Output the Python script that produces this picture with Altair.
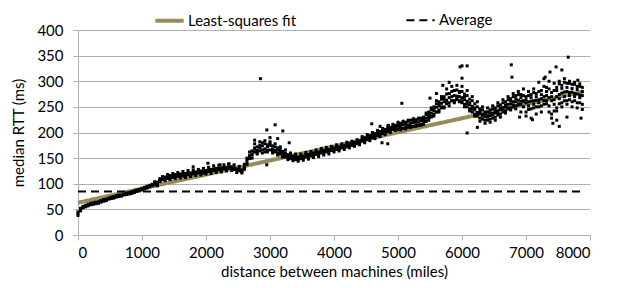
import altair as alt
import pandas as pd

# sampling positions (miles) at which the scatter was read
dist = list(range(0, 7920, 40))          # 198 positions
dist_mid = list(range(1200, 5400, 40))   # 105 positions (extra row, middle part)
dist_wide = list(range(5400, 7920, 40))  # 63 positions (noisy part, extra rows)

row_a = [
    38, 49, 55, 56, 59, 61, 60, 63, 65, 64, 68, 70, 70, 73, 75, 74, 77, 76, 80, 79, 82, 83, 83, 87, 88,
    88, 92, 92, 96, 98, 98, 102, 104, 110, 112, 111, 114, 113, 116, 114, 117, 118, 117, 119, 120, 119, 122, 121, 123, 124,
    123, 126, 127, 126, 129, 127, 130, 131, 129, 132, 130, 131, 127, 128, 125, 128, 138, 150, 158, 170, 165, 175, 166, 178, 172,
    175, 163, 172, 160, 168, 155, 160, 150, 155, 148, 153, 148, 153, 150, 156, 153, 158, 156, 161, 158, 164, 161, 166, 163, 169,
    170, 167, 172, 170, 175, 172, 178, 175, 181, 178, 184, 183, 190, 186, 194, 190, 198, 194, 202, 198, 206, 202, 210, 206, 214,
    206, 218, 208, 220, 210, 224, 212, 225, 214, 228, 216, 235, 224, 245, 236, 256, 244, 265, 250, 275, 258, 280, 262, 283, 262,
    280, 255, 272, 246, 262, 236, 250, 228, 244, 224, 240, 226, 246, 230, 252, 236, 258, 242, 264, 248, 270, 252, 274, 255, 272,
    240, 272, 246, 278, 250, 280, 252, 290, 256, 285, 236, 282, 248, 295, 258, 298, 262, 296, 260, 294, 258, 290, 255,
]
row_b = [
    42, 52, 53, 58, 57, 59, 62, 61, 63, 66, 66, 68, 72, 71, 73, 76, 75, 78, 78, 81, 80, 81, 85, 85, 86,
    90, 90, 94, 94, 96, 100, 100, 107, 108, 110, 114, 112, 116, 114, 117, 115, 116, 120, 117, 118, 122, 120, 124, 121, 122,
    125, 124, 125, 128, 127, 130, 128, 129, 132, 130, 133, 129, 129, 126, 127, 133, 146, 155, 164, 162, 172, 164, 174, 168, 165,
    166, 174, 162, 170, 158, 163, 152, 157, 149, 154, 147, 152, 149, 154, 152, 157, 154, 160, 157, 162, 160, 165, 162, 167, 165,
    166, 171, 168, 174, 171, 176, 174, 179, 177, 182, 180, 188, 185, 192, 189, 196, 193, 200, 196, 204, 200, 208, 204, 212, 208,
    216, 208, 220, 210, 222, 212, 224, 214, 226, 216, 230, 222, 240, 230, 250, 240, 260, 248, 270, 256, 276, 262, 282, 264, 278,
    258, 275, 250, 265, 240, 256, 232, 246, 226, 240, 224, 244, 228, 248, 234, 254, 240, 260, 246, 266, 250, 272, 254, 274, 250,
    270, 245, 274, 248, 276, 250, 282, 255, 288, 240, 278, 242, 288, 256, 292, 262, 296, 264, 294, 262, 290, 258, 288,
]
row_c = [
    45, 47, 56, 55, 60, 62, 63, 64, 62, 67, 69, 67, 71, 74, 72, 77, 78, 77, 79, 82, 83, 84, 86, 88, 89,
    91, 93, 95, 97, 99, 101, 103, 106, 112, 113, 110, 116, 112, 118, 116, 119, 115, 119, 121, 121, 121, 123, 122, 125, 121,
    126, 127, 128, 129, 130, 129, 131, 132, 131, 133, 132, 128, 126, 125, 124, 131, 141, 149, 156, 168, 160, 170, 180, 162, 176,
    179, 168, 165, 166, 163, 160, 157, 155, 153, 151, 151, 149, 151, 151, 153, 155, 156, 158, 159, 161, 163, 164, 164, 166, 167,
    169, 170, 169, 173, 172, 175, 177, 176, 180, 181, 181, 186, 186, 190, 190, 194, 194, 198, 198, 202, 202, 206, 206, 210, 210,
    212, 213, 215, 216, 215, 218, 219, 220, 220, 223, 224, 228, 231, 238, 243, 249, 252, 257, 260, 263, 268, 270, 272, 271, 270,
    268, 264, 261, 254, 251, 244, 239, 237, 235, 231, 233, 233, 237, 238, 242, 245, 249, 250, 255, 256, 260, 260, 263, 261, 261,
    258, 260, 261, 262, 263, 264, 266, 270, 272, 268, 262, 264, 270, 274, 277, 279, 280, 278, 279, 276, 275, 273, 272,
]
row_f = [
    104, 96, 110, 114, 106, 118, 108, 120, 110, 122, 111, 124, 112, 126, 114, 127, 116, 128, 117, 130,
    119, 132, 120, 135, 122, 136, 123, 137, 125, 139, 126, 137, 122, 134, 121, 138, 150, 162, 150, 178, 158, 182, 160, 184, 162,
    182, 160, 178, 156, 172, 152, 166, 147, 160, 145, 158, 144, 158, 146, 161, 148, 163, 151, 166, 153, 169, 156, 171, 158, 173,
    162, 176, 164, 178, 167, 181, 170, 183, 173, 186, 176, 192, 180, 196, 184, 200, 188, 204, 192, 208, 196, 212, 200, 216, 204,
    220, 205, 222, 207, 224, 210, 227, 212, 228, 214,
]
row_d = [
    220, 238, 228, 248, 232, 262, 240, 270, 248, 285, 252, 290, 258, 292, 260,
    290, 250, 282, 242, 270, 232, 260, 222, 250, 218, 248, 220, 252, 224, 258, 230, 264, 238, 270, 244, 276, 246, 280, 240, 285,
    232, 280, 228, 285, 236, 298, 240, 305, 262, 300, 228, 296, 242, 300, 250, 305, 255, 300, 250, 298, 248, 295, 245,
]
row_e = [
    226, 222, 236, 232, 245, 240, 256, 250, 266, 258, 276, 262, 282, 266, 280,
    262, 270, 256, 258, 246, 248, 236, 242, 232, 236, 230, 238, 234, 242, 238, 248, 244, 254, 248, 262, 254, 266, 256, 268, 262,
    264, 252, 268, 255, 270, 258, 274, 262, 280, 252, 270, 255, 282, 266, 286, 270, 288, 272, 286, 270, 284, 268, 280,
]
out_x = [1800, 2030, 2220, 2350, 2950, 3080, 3200, 2850, 2760, 3000, 3120, 2950, 3300, 4590, 4750,
         4720, 4850, 5060, 5500, 5970, 6000, 6080, 6000, 6080, 4840, 5700, 5800, 5600, 6240, 6770,
         6780, 7660, 7470, 7420, 7860, 7300, 7100, 6900, 7520, 7640, 7375, 7560, 7810, 7480]
out_y = [133, 140, 137, 138, 205, 215, 203, 305, 185, 190, 188, 137, 180, 217, 180,
         212, 214, 257, 267, 328, 330, 330, 306, 199, 178, 292, 298, 276, 210, 332,
         308, 347, 328, 218, 228, 308, 225, 230, 212, 230, 318, 322, 302, 224]

fit_x = [0, 7900]
fit_y = [63, 280]
avg_x = [0, 7900]
avg_y = [85, 85]

x_ticks = [0, 1000, 2000, 3000, 4000, 5000, 6000, 7000, 8000]
y_ticks = [0, 50, 100, 150, 200, 250, 300, 350, 400]

for r in (row_a, row_b, row_c):
    assert len(r) == len(dist), len(r)
assert len(row_f) == len(dist_mid), len(row_f)
for r in (row_d, row_e):
    assert len(r) == len(dist_wide), len(r)
assert len(out_x) == len(out_y)

xs, ys = [], []
for r in (row_a, row_b, row_c):
    xs += dist
    ys += r
xs += dist_mid
ys += row_f
for r in (row_d, row_e):
    xs += dist_wide
    ys += r
xs += out_x
ys += out_y
pts = pd.DataFrame({"dist": xs, "rtt": ys})

lines = pd.DataFrame({
    "dist": fit_x + avg_x,
    "rtt": fit_y + avg_y,
    "series": ["Least-squares fit"] * 2 + ["Average"] * 2,
})

FONT = "Lato"
FS = 15
GRID = "#B0B0B0"
xs_ = alt.Scale(domain=[0, 8000], nice=False, zero=False)
ys_ = alt.Scale(domain=[0, 400], nice=False)

x_enc = alt.X("dist:Q", scale=xs_, axis=alt.Axis(
    title="distance between machines (miles)", values=x_ticks, format="d", grid=False,
    domainColor=GRID, tickColor=GRID, tickSize=5, labelPadding=5,
    labelFont=FONT, labelFontSize=FS, labelColor="#000", titleFont=FONT,
    titleFontSize=FS, titleFontWeight="normal", titleColor="#000", titlePadding=4))
y_enc = alt.Y("rtt:Q", scale=ys_, axis=alt.Axis(
    title="median RTT (ms)", values=y_ticks, grid=True, gridColor=GRID,
    domainColor=GRID, tickColor=GRID, tickSize=5, labelPadding=10,
    labelFont=FONT, labelFontSize=FS, labelColor="#000", titleFont=FONT,
    titleFontSize=FS, titleFontWeight="normal", titleColor="#000", titlePadding=10))

line_layer = alt.Chart(lines).mark_line().encode(
    x=x_enc, y=y_enc,
    color=alt.Color("series:N", scale=alt.Scale(domain=["Least-squares fit", "Average"],
                                                 range=["#968C5A", "#000000"]),
                    legend=alt.Legend(title=None, orient="none", legendX=75, legendY=-26,
                                      direction="horizontal", columns=2, symbolType="stroke",
                                      symbolSize=800, labelFont=FONT, labelFontSize=FS,
                                      labelColor="#000", columnPadding=105, labelOffset=2,
                                      labelLimit=300, padding=0, rowPadding=0)),
    strokeDash=alt.StrokeDash("series:N", scale=alt.Scale(domain=["Least-squares fit", "Average"],
                                                         range=[[1, 0], [8, 5]]), legend=None),
    strokeWidth=alt.StrokeWidth("series:N", scale=alt.Scale(domain=["Least-squares fit", "Average"],
                                                           range=[4, 2]), legend=None),
)

pts_layer = alt.Chart(pts).mark_square(size=9, color="black", opacity=1).encode(x=x_enc, y=y_enc)

chart = alt.layer(line_layer, pts_layer).properties(
    width=512, height=205,
    autosize=alt.AutoSizeParams(type="none"),
    padding={"left": 70, "top": 22, "right": 20, "bottom": 50},
).configure_view(stroke=None).configure_legend(symbolStrokeWidth=4)

chart.save("out.html", embed_options={"renderer": "svg", "actions": False})
